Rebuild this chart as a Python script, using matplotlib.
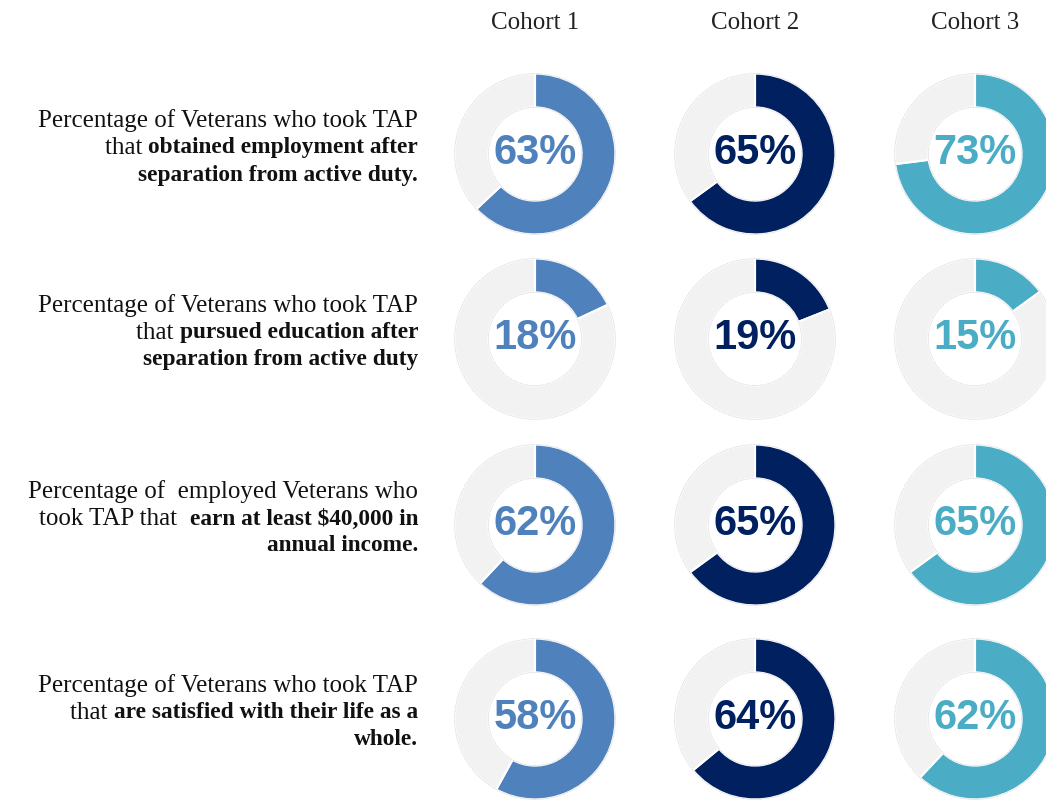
import matplotlib
matplotlib.use("Agg")
import matplotlib.pyplot as plt

# data
cohorts = ["Cohort 1", "Cohort 2", "Cohort 3"]
colors = ["#4F81BD", "#002060", "#4BACC6"]
values = [
    [63, 65, 73],
    [18, 19, 15],
    [62, 65, 65],
    [58, 64, 62],
]
# each label line: list of (text, bold)
labels = [
    [[("Percentage of Veterans who took TAP", False)],
     [("that ", False), ("obtained employment after", True)],
     [("separation from active duty.", True)]],
    [[("Percentage of Veterans who took TAP", False)],
     [("that ", False), ("pursued education after", True)],
     [("separation from active duty", True)]],
    [[("Percentage of  employed Veterans who", False)],
     [("took TAP that  ", False), ("earn at least $40,000 in", True)],
     [("annual income.", True)]],
    [[("Percentage of Veterans who took TAP", False)],
     [("that ", False), ("are satisfied with their life as a", True)],
     [("whole.", True)]],
]

W, H = 1046, 803
fig = plt.figure(figsize=(W / 100, H / 100), dpi=100)
bg = fig.add_axes([0, 0, 1, 1])
bg.set_xlim(0, W)
bg.set_ylim(H, 0)
bg.axis("off")

serif = "Liberation Serif"
col_x = [535, 755, 975]
row_y = [155, 340, 526, 720]
R = 82

for j, name in enumerate(cohorts):
    bg.text(col_x[j], 23, name, ha="center", va="center", fontsize=18,
            family=serif, color="#222222")

for i, row in enumerate(values):
    for j, v in enumerate(row):
        cx, cy = col_x[j], row_y[i]
        ax = fig.add_axes([(cx - R) / W, 1 - (cy + R) / H, 2 * R / W, 2 * R / H])
        ax.pie([v, 100 - v], colors=[colors[j], "#F2F2F2"], startangle=90,
               counterclock=False, radius=1,
               wedgeprops=dict(width=0.42, edgecolor="white", linewidth=1.5))
        for r in (1.0, 0.58):
            ax.add_patch(plt.Circle((0, 0), r, fill=False, ec="#D9D9D9",
                                    lw=0.6, ls=(0, (2, 1))))
        ax.set_xlim(-1.02, 1.02)
        ax.set_ylim(-1.02, 1.02)
        ax.set_aspect("equal")
        ax.axis("off")
        ax.text(0, 0.03, f"{v}%", ha="center", va="center", fontsize=30,
                fontweight="bold", family="Liberation Sans", color=colors[j])

# left labels, right aligned, mixed weights
fig.canvas.draw()
renderer = fig.canvas.get_renderer()
x_right = 418
line_h = 27
for i, lines in enumerate(labels):
    y0 = row_y[i] - 7 - line_h
    for k, pieces in enumerate(lines):
        y = y0 + k * line_h
        x = x_right
        for txt, bold in reversed(pieces):
            t = bg.text(x, y, txt, ha="right", va="center",
                        fontsize=16.8 if bold else 18,
                        family=serif, color="#111111",
                        fontweight="bold" if bold else "normal")
            bb = t.get_window_extent(renderer)
            x -= bb.width

fig.savefig("out.png", dpi=100)
